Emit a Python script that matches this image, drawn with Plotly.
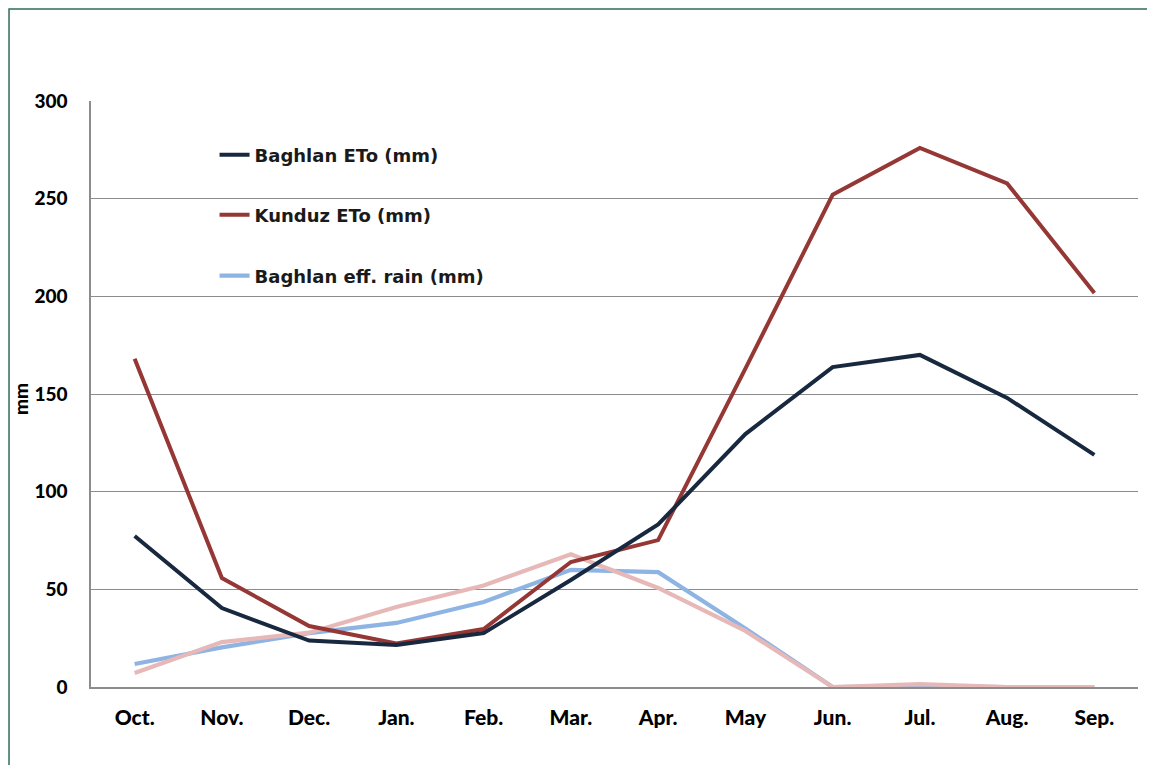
import plotly.graph_objects as go

months = ["Oct.", "Nov.", "Dec.", "Jan.", "Feb.", "Mar.", "Apr.", "May", "Jun.", "Jul.", "Aug.", "Sep."]
baghlan_eto = [77.3, 40.4, 23.8, 21.5, 27.6, 54.8, 83.2, 129.5, 163.8, 170.0, 148.0, 118.8]
kunduz_eto = [168.0, 55.8, 31.2, 22.3, 29.7, 64.0, 75.2, 163.0, 252.0, 276.0, 257.8, 201.7]
baghlan_rain = [11.8, 20.3, 27.6, 32.8, 43.5, 60.0, 58.8, 30.0, 0.0, 0.4, 0.0, 0.0]
kunduz_rain = [7.2, 23.0, 27.8, 41.0, 52.0, 68.0, 50.7, 28.7, 0.0, 1.5, 0.0, 0.0]
y_ticks = [0, 50, 100, 150, 200, 250, 300]

FONT = "Lato"
LFONT = "DejaVu Sans"
fig = go.Figure()
fig.add_trace(go.Scatter(x=months, y=baghlan_rain, mode="lines", name="Baghlan eff. rain (mm)",
                         line=dict(color="#8EB4E3", width=4.2), legend="legend3"))
fig.add_trace(go.Scatter(x=months, y=kunduz_rain, mode="lines", name="Kunduz eff. rain (mm)",
                         line=dict(color="#E6B9B8", width=4.2), showlegend=False))
fig.add_trace(go.Scatter(x=months, y=kunduz_eto, mode="lines", name="Kunduz ETo (mm)",
                         line=dict(color="#953735", width=4), legend="legend2"))
fig.add_trace(go.Scatter(x=months, y=baghlan_eto, mode="lines", name="Baghlan ETo (mm)",
                         line=dict(color="#17283F", width=4), legend="legend"))

leg = dict(xanchor="left", yanchor="middle", bgcolor="rgba(0,0,0,0)",
           font=dict(family=LFONT, size=18, color="#1a1a1a", weight="bold"))
fig.update_layout(
    width=1147, height=757,
    margin=dict(l=83, r=17, t=93, b=78),
    paper_bgcolor="white", plot_bgcolor="white",
    font=dict(family=FONT, color="black"),
    legend=dict(x=0.118, y=0.9078, **leg),
    legend2=dict(x=0.118, y=0.8055, **leg),
    legend3=dict(x=0.118, y=0.7014, **leg),
    xaxis=dict(type="category", range=[-0.5, 11.5], showgrid=False, showline=True,
               linecolor="#8c8c8c", linewidth=1.5,
               ticks="", tickfont=dict(family=FONT, size=21, weight=900, color="black"),
               ticklabelstandoff=11),
    yaxis=dict(range=[0, 300], tickvals=y_ticks, showgrid=True, gridcolor="#8c8c8c", gridwidth=1.2,
               showline=True, linecolor="#8c8c8c", linewidth=1.5, zeroline=False, ticks="",
               tickfont=dict(family=FONT, size=19, weight=900, color="black"),
               ticklabelstandoff=18),
    shapes=[dict(type="rect", xref="paper", yref="paper", x0=-0.0783, y0=-0.3, x1=1.2, y1=1.1570,
                 line=dict(color="#2E6E5A", width=1.5), fillcolor="rgba(0,0,0,0)", layer="below")],
    annotations=[dict(text="mm", xref="paper", yref="paper", x=-0.0674, y=0.492, textangle=-90,
                      xanchor="center", yanchor="middle", showarrow=False,
                      font=dict(family=FONT, size=19, weight=900, color="black"))],
)
fig.write_html("out.html")
